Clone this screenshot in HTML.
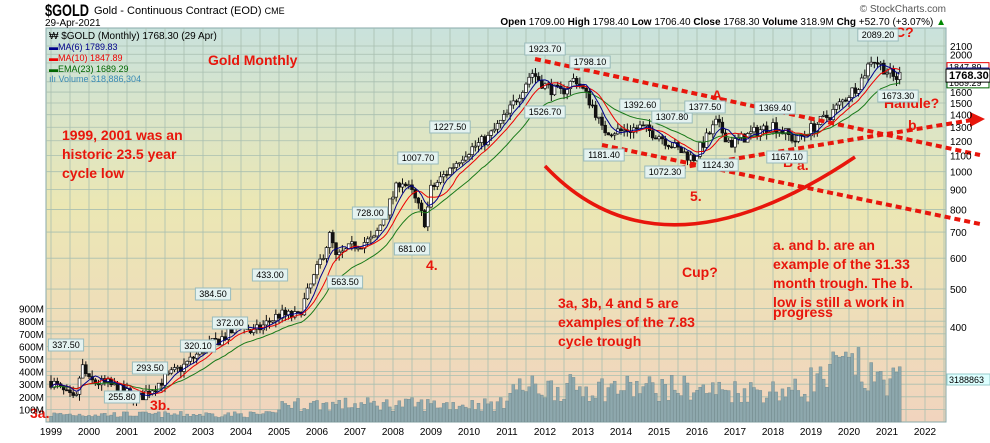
<!DOCTYPE html>
<html><head><meta charset="utf-8"><style>
body{margin:0;background:#fff;width:990px;height:438px;overflow:hidden;font-family:"Liberation Sans",sans-serif}
</style></head><body>
<svg id="s" width="990" height="438" xmlns="http://www.w3.org/2000/svg" font-family="Liberation Sans, sans-serif">
<defs>
<linearGradient id="bg" x1="0" y1="0" x2="0" y2="1">
<stop offset="0" stop-color="#c9e2dc"/><stop offset="0.45" stop-color="#ebe7b4"/><stop offset="1" stop-color="#f1d4be"/>
</linearGradient>
</defs>
<rect x="46" y="28" width="900" height="394" fill="url(#bg)" stroke="#8aa" />
<g id="grid" stroke="#a9bfb0" stroke-width="0.8"></g>
<g id="vol"></g>
<g id="cand"></g>
<g id="ma"></g>
<text x="45" y="16" font-size="17" font-weight="bold" textLength="44" lengthAdjust="spacingAndGlyphs">$GOLD</text>
<text x="94" y="14" font-size="11">Gold - Continuous Contract (EOD) <tspan font-size="9">CME</tspan></text>
<text x="45" y="26" font-size="10">29-Apr-2021</text>
<text x="946" y="25" font-size="10" text-anchor="end"><tspan font-weight="bold">Open</tspan> 1709.00 <tspan font-weight="bold">High</tspan> 1798.40 <tspan font-weight="bold">Low</tspan> 1706.40 <tspan font-weight="bold">Close</tspan> 1768.30 <tspan font-weight="bold">Volume</tspan> 318.9M <tspan font-weight="bold">Chg</tspan> +52.70 (+3.07%) <tspan fill="#080">▲</tspan></text>
<text x="946" y="12" font-size="10" text-anchor="end" fill="#555">© StockCharts.com</text>
<text x="49" y="39" font-size="10">₩ $GOLD (Monthly) 1768.30 (29 Apr)</text>
<text x="49" y="50" font-size="9" fill="#00008b">▬MA(6) 1789.83</text>
<text x="49" y="61" font-size="9" fill="#e00">▬MA(10) 1847.89</text>
<text x="49" y="72" font-size="9" fill="#060">▬EMA(23) 1689.29</text>
<text x="49" y="82" font-size="9" fill="#3a8bb5">ılı Volume 318,886,304</text>
<g fill="#e8160c" font-weight="bold" font-size="14">
<text x="208" y="65">Gold Monthly</text>
<text x="62" y="140">1999, 2001 was an</text>
<text x="62" y="159">historic 23.5 year</text>
<text x="62" y="178">cycle low</text>
<text x="30" y="418">3a.</text><text x="150" y="410">3b.</text>
<text x="426" y="270">4.</text><text x="690" y="201">5.</text>
<text x="712" y="100">A</text><text x="783" y="167">B</text><text x="797" y="170">a.</text>
<text x="908" y="130">b.</text><text x="895" y="37">C?</text><text x="884" y="108">Handle?</text>
<text x="682" y="277">Cup?</text>
<text x="773" y="250">a. and b. are an</text>
<text x="773" y="269">example of the 31.33</text>
<text x="773" y="288">month trough. The b.</text>
<text x="773" y="307">low is still a work in</text>
<text x="773" y="317">progress</text>
<text x="558" y="308">3a, 3b, 4 and 5 are</text>
<text x="558" y="327">examples of the 7.83</text>
<text x="558" y="346">cycle trough</text>
</g>
<g stroke="#e8160c" stroke-width="4" stroke-dasharray="6,4" fill="none">
<line x1="535" y1="59" x2="980" y2="155"/>
<line x1="602" y1="145" x2="980" y2="224"/>
<line x1="660" y1="171" x2="972" y2="120"/>
</g>
<polygon points="970,112 985,119 970,127" fill="#e8160c"/>
<path d="M545,166 Q660,288 855,157" stroke="#e8160c" stroke-width="3.5" fill="none"/>
<g id="labs" font-size="9"></g>
<g id="ax" font-size="10"></g>
</svg>
<script>
const NS="http://www.w3.org/2000/svg";
function el(p,t,a,txt){const e=document.createElementNS(NS,t);for(const k in a)e.setAttribute(k,a[k]);if(txt!==undefined)e.textContent=txt;document.getElementById(p).appendChild(e);return e;}
const X=t=>51+38*(t-1999);
const Y=p=>46+390*(Math.log10(2100)-Math.log10(p));
for(let t=1999;t<=2022.5;t+=0.5)el('grid','line',{x1:X(t),x2:X(t),y1:28,y2:422});
[2100,2000,1900,1800,1700,1600,1500,1400,1300,1200,1100,1000,900,800,700,600,500,400,300].forEach(p=>el('grid','line',{x1:46,x2:946,y1:Y(p),y2:Y(p)}));
for(let v=1;v<=9;v++)el('grid','line',{x1:46,x2:946,y1:422-12.6*v,y2:422-12.6*v});
[2100,2000,1600,1500,1400,1300,1200,1100,1000,900,800,700,600,500,400].forEach(p=>el('ax','text',{x:950,y:Y(p)+4},p));
for(let v=1;v<=9;v++)el('ax','text',{x:44,y:422-12.6*v+4,'text-anchor':'end'},v*100+'M');
for(let y=1999;y<=2022;y++)el('ax','text',{x:X(y),y:435,'text-anchor':'middle'},y);
const K=[[1999,290],[1999.65,256],[1999.8,320],[2000,290],[2000.5,285],[2001.3,262],[2002,295],[2002.5,318],[2003,350],[2003.7,385],[2004,410],[2004.3,385],[2005,430],[2005.5,425],[2006,560],[2006.35,690],[2006.5,600],[2007,650],[2007.5,670],[2008.2,960],[2008.5,880],[2008.85,740],[2009,900],[2009.9,1120],[2010.5,1220],[2011,1400],[2011.65,1800],[2012,1660],[2012.4,1590],[2012.8,1740],[2013.3,1450],[2013.5,1280],[2014,1270],[2014.5,1300],[2015,1240],[2015.5,1140],[2015.9,1080],[2016.5,1330],[2016.9,1180],[2017.5,1260],[2018,1320],[2018.6,1200],[2019,1290],[2019.5,1400],[2020,1580],[2020.3,1700],[2020.6,1960],[2020.9,1850],[2021.2,1730],[2021.33,1768]];
function price(t){for(let i=0;i<K.length-1;i++){if(t<=K[i+1][0]){const f=(t-K[i][0])/(K[i+1][0]-K[i][0]);return K[i][1]*Math.pow(K[i+1][1]/K[i][1],f);}}return K[K.length-1][1];}
let seed=7;const rnd=()=>{seed=(seed*16807)%2147483647;return seed/2147483647;};
const closes=[];let prev=price(1999);
for(let i=0;i<=268;i++){const t=1999+i/12;let c=price(t)*(1+(rnd()-0.5)*0.07);const o=prev;const hi=Math.max(o,c)*(1+rnd()*0.04),lo=Math.min(o,c)*(1-rnd()*0.04);
 const x=X(t);el('cand','line',{x1:x,x2:x,y1:Y(hi),y2:Y(lo),stroke:'#111','stroke-width':1});
 const y1=Y(Math.max(o,c)),y2=Y(Math.min(o,c));
 el('cand','rect',{x:x-1.4,y:y1,width:2.8,height:Math.max(1,y2-y1),fill:c>o?'#fff':'#111',stroke:'#111','stroke-width':0.7});
 closes.push(c);prev=c;
 let base=t<2005?60:t<2011?140:t<2016?270:t<2019?250:340;let v=base*(0.6+rnd()*0.8);
 if(t>2019.5&&t<2020.3)v+=120;
 el('vol','rect',{x:x-1.5,y:422-0.126*v,width:3,height:0.126*v,fill:'#8ea8ad',stroke:'#6d878c','stroke-width':0.4});
}
function sma(n){return closes.map((c,i)=>{const a=closes.slice(Math.max(0,i-n+1),i+1);return a.reduce((s,v)=>s+v,0)/a.length;});}
function ema(n){let e=closes[0],k=2/(n+1);return closes.map(c=>e=c*k+e*(1-k));}
[[ema(23),'#1a7a1a'],[sma(10),'#e00'],[sma(6),'#00008b']].forEach(([arr,col])=>{el('ma','polyline',{points:arr.map((v,i)=>X(1999+i/12)+','+Y(v)).join(' '),fill:'none',stroke:col,'stroke-width':1});});
const L=[[1923.7,545,49],[1798.1,590,62],[1526.7,545,112],[1392.6,640,105],[1307.8,672,117],[1181.4,604,155],[1072.3,665,172],[1377.5,705,107],[1369.4,775,108],[1124.3,718,165],[1167.1,787,157],[2089.2,878,35],[1673.3,898,96],[1227.5,450,127],[1007.7,418,158],[728,370,213],[681,412,249],[563.5,345,282],[433,270,275],[384.5,213,294],[372,230,323],[320.1,198,346],[293.5,150,368],[337.5,66,345],[255.8,122,397]];
L.forEach(([v,x,y])=>{const s=v.toFixed(2);const w=s.length*5.2+4;el('labs','rect',{x:x-w/2,y:y-6,width:w,height:12,fill:'#e4f2f0',stroke:'#9bb'});el('labs','text',{x:x,y:y+3,'text-anchor':'middle'},s);});
[[1847.89,'#e00'],[1789.83,'#00008b'],[1689.29,'#060']].forEach(([v,c])=>{el('labs','rect',{x:947,y:Y(v)-5,width:42,height:10,fill:'#fff',stroke:c});el('labs','text',{x:949,y:Y(v)+3},v.toFixed(2));});
el('labs','rect',{x:946,y:Y(1768.3)-6,width:44,height:13,fill:'#fff',stroke:'#000'});
el('labs','text',{x:949,y:Y(1768.3)+4,'font-weight':'bold','font-size':11},'1768.30');
el('labs','rect',{x:947,y:374,width:43,height:11,fill:'#dff',stroke:'#9cc'});
el('labs','text',{x:949,y:383},'3188863');
</script>
</body></html>
